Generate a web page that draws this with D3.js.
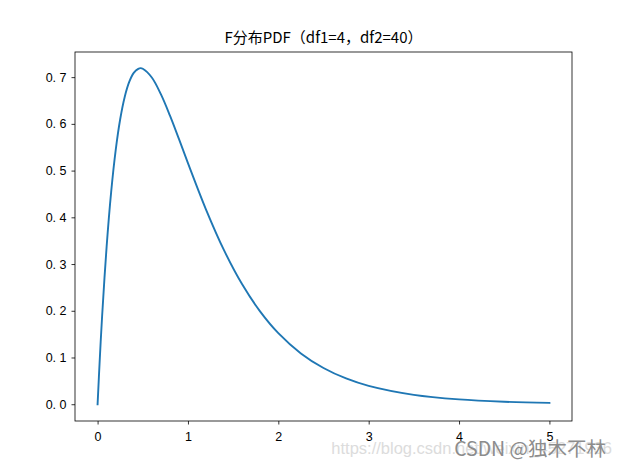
<!DOCTYPE html>
<html><head><meta charset="utf-8">
<script src="https://cdn.jsdelivr.net/npm/d3@7"></script>
<style>body{margin:0;background:#fff}svg{display:block}</style>
</head><body>
<script>
const xValues = [0, 0.025, 0.05, 0.1, 0.15, 0.2, 0.25, 0.3, 0.35, 0.4, 0.45, 0.476, 0.5, 0.6, 0.7, 0.8, 0.9, 1.0, 1.2, 1.4, 1.6, 1.8, 2.0, 2.25, 2.5, 2.75, 3.0, 3.5, 4.0, 4.5, 5.0];
const pdfValues = [0, 0.0994, 0.1882, 0.3374, 0.4540, 0.5433, 0.6099, 0.6576, 0.6897, 0.7090, 0.7177, 0.7192, 0.7179, 0.6993, 0.6636, 0.6181, 0.5677, 0.5160, 0.4166, 0.3292, 0.2566, 0.1982, 0.1521, 0.1088, 0.0775, 0.0551, 0.0392, 0.0200, 0.0103, 0.0053, 0.0028];
const xTicks = [0, 1, 2, 3, 4, 5];
const yTicks = [0.0, 0.1, 0.2, 0.3, 0.4, 0.5, 0.6, 0.7];
const titleText = "F分布PDF（df1=4，df2=40）";

const W = 621, H = 467;
const m = {left: 75, right: 572, top: 52, bottom: 421};
const svg = d3.select("body").append("svg").attr("width", W).attr("height", H);

const x = d3.scaleLinear().domain([-0.25, 5.25]).range([m.left, m.right]);
const y = d3.scaleLinear().domain([-0.0359, 0.7538]).range([m.bottom, m.top]);

const font = "'Liberation Sans', Arial, 'Noto Sans CJK SC', sans-serif";

const xAxis = svg.append("g").attr("transform", `translate(0,${m.bottom})`)
  .call(d3.axisBottom(x).tickValues(xTicks).tickFormat(d3.format("d")).tickSize(3.5).tickPadding(5));
const yAxis = svg.append("g").attr("transform", `translate(${m.left},0)`)
  .call(d3.axisLeft(y).tickValues(yTicks).tickFormat(d => d3.format(".1f")(d).replace(".", ". ")).tickSize(3.5).tickPadding(5));
[xAxis, yAxis].forEach(g => {
  g.select(".domain").remove();
  g.selectAll(".tick line").attr("stroke", "#000").attr("stroke-width", 0.8);
  g.selectAll(".tick text").attr("fill", "#000").style("font-family", font).style("font-size", "12.5px");
});
xAxis.selectAll(".tick text").attr("dy", "0.9em");

svg.append("rect").attr("x", m.left).attr("y", m.top)
  .attr("width", m.right - m.left).attr("height", m.bottom - m.top)
  .attr("fill", "none").attr("stroke", "#000").attr("stroke-width", 0.8);

const data = xValues.map((v, i) => [v, pdfValues[i]]);
svg.append("path").datum(data)
  .attr("fill", "none").attr("stroke", "#1f77b4").attr("stroke-width", 1.9)
  .attr("stroke-linejoin", "round").attr("stroke-linecap", "square")
  .attr("d", d3.line().x(d => x(d[0])).y(d => y(d[1])).curve(d3.curveCatmullRom.alpha(0.5)));

svg.append("text").attr("x", (m.left + m.right) / 2).attr("y", 43)
  .attr("text-anchor", "middle").style("font-family", "'Noto Sans CJK SC', sans-serif")
  .style("font-size", "15px").attr("fill", "#000").text(titleText);

svg.append("text").attr("x", 612).attr("y", 454).attr("text-anchor", "end")
  .style("font-family", font).style("font-size", "16.5px").attr("fill", "#dcdcdc")
  .text("https://blog.csdn.net/weixin_45271936");
svg.append("text").attr("x", 606).attr("y", 456).attr("text-anchor", "end")
  .style("font-family", "'Noto Sans CJK SC', sans-serif").style("font-size", "19.5px").attr("fill", "#8c8c8c")
  .text("CSDN @独木不林");
</script>
</body></html>
